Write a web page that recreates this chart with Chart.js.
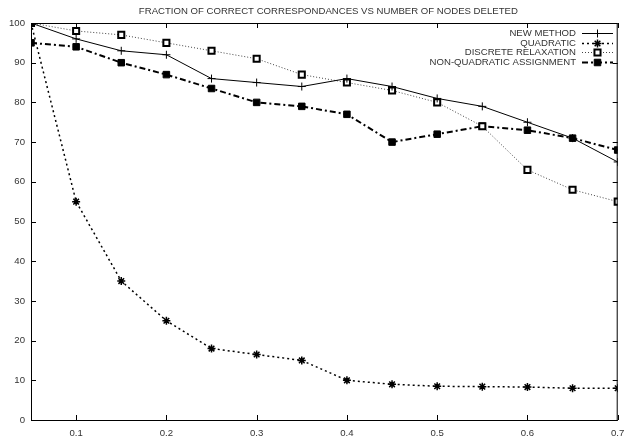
<!DOCTYPE html>
<html>
<head>
<meta charset="utf-8">
<script src="https://cdn.jsdelivr.net/npm/chart.js@4/dist/chart.umd.min.js"></script>
<style>
  html, body { margin: 0; padding: 0; background: #fff; overflow: hidden; }
  #wrap { width: 624px; height: 441px; }
</style>
</head>
<body>
<div id="wrap"><canvas id="chart"></canvas></div>
<script>
// Fraction of correct correspondances vs number of nodes deleted
const chartTitle = 'FRACTION OF CORRECT CORRESPONDANCES VS NUMBER OF NODES DELETED';
const nodesDeleted = [0.05, 0.1, 0.15, 0.2, 0.25, 0.3, 0.35, 0.4, 0.45, 0.5, 0.55, 0.6, 0.65, 0.7];
const newMethod    = [100, 96, 93, 92, 86, 85, 84, 86, 84, 81, 79, 75, 71, 65];
const quadratic    = [100, 55, 35, 25, 18, 16.5, 15, 10, 9, 8.5, 8.4, 8.3, 8, 8];
const discreteRelax = [100, 98, 97, 95, 93, 91, 87, 85, 83, 80, 74, 63, 58, 55];
const nonQuadratic = [95, 94, 90, 87, 83.5, 80, 79, 77, 70, 72, 74, 73, 71, 68];
const xTicks = [0.1, 0.2, 0.3, 0.4, 0.5, 0.6, 0.7];
const yTicks = [0, 10, 20, 30, 40, 50, 60, 70, 80, 90, 100];

const FONT = 'Liberation Sans, Arial, sans-serif';
const TEXT = '#333';
const FSIZE = 9.6;

const pts = vals => vals.map((v, i) => ({ x: nodesDeleted[i], y: v }));

// gnuplot style frame with inward ticks on all four sides, x labels and title
// (x labels drawn here so the last one can run off the canvas edge like the original)
const framePlugin = {
    id: 'frame',
    afterDatasetsDraw(chart) {
        const { ctx, chartArea: a, scales } = chart;
        ctx.save();
        ctx.strokeStyle = '#000';
        ctx.lineWidth = 1;
        ctx.strokeRect(a.left + 0.5, a.top + 0.5, a.right - a.left - 1, a.bottom - a.top);
        ctx.beginPath();
        const t = 5;
        yTicks.forEach(v => {
            const y = Math.round(scales.y.getPixelForValue(v)) + 0.5;
            ctx.moveTo(a.left, y); ctx.lineTo(a.left + t, y);
            ctx.moveTo(a.right, y); ctx.lineTo(a.right - t, y);
        });
        xTicks.forEach(v => {
            const x = Math.round(scales.x.getPixelForValue(v)) + 0.5;
            ctx.moveTo(x, a.bottom); ctx.lineTo(x, a.bottom - t);
            ctx.moveTo(x, a.top); ctx.lineTo(x, a.top + t);
        });
        ctx.stroke();

        ctx.fillStyle = TEXT;
        ctx.font = FSIZE + 'px ' + FONT;
        ctx.textAlign = 'center';
        ctx.textBaseline = 'middle';
        xTicks.forEach(v => {
            ctx.fillText(v.toFixed(1), scales.x.getPixelForValue(v), a.bottom + 13);
        });
        ctx.fillText(chartTitle, (a.left + a.right) / 2 + 4, 11);
        ctx.restore();
    }
};

// legend: right-aligned labels with line sample to the right
const legendPlugin = {
    id: 'gpLegend',
    afterDatasetsDraw(chart) {
        const { ctx } = chart;
        const textRight = 576, x0 = 582, x1 = 613, top = 33, step = 9.7;
        ctx.save();
        ctx.font = FSIZE + 'px ' + FONT;
        ctx.textAlign = 'right';
        ctx.textBaseline = 'middle';
        chart.data.datasets.forEach((ds, i) => {
            const y = Math.round(top + i * step);
            ctx.fillStyle = TEXT;
            ctx.fillText(ds.label, textRight, y);
            ctx.save();
            ctx.strokeStyle = ds.borderColor;
            ctx.lineWidth = ds.borderWidth;
            ctx.setLineDash(ds.borderDash || []);
            ctx.beginPath();
            ctx.moveTo(x0, y + 0.5); ctx.lineTo(x1, y + 0.5);
            ctx.stroke();
            ctx.restore();
            ctx.save();
            ctx.fillStyle = ds.pointBackgroundColor;
            ctx.strokeStyle = ds.pointBorderColor;
            ctx.lineWidth = ds.pointBorderWidth;
            Chart.helpers.drawPoint(ctx, { pointStyle: ds.pointStyle, radius: ds.pointRadius, rotation: 0, borderWidth: ds.pointBorderWidth }, (x0 + x1) / 2, y + 0.5);
            ctx.restore();
        });
        ctx.restore();
    }
};

new Chart(document.getElementById('chart'), {
    type: 'scatter',
    data: {
        datasets: [
            {
                label: 'NEW METHOD',
                data: pts(newMethod),
                showLine: true,
                borderColor: '#000',
                borderWidth: 1,
                pointStyle: 'cross',
                pointRadius: 4,
                pointBorderColor: '#000',
                pointBackgroundColor: '#000',
                pointBorderWidth: 1
            },
            {
                label: 'QUADRATIC',
                data: pts(quadratic),
                showLine: true,
                borderColor: '#000',
                borderWidth: 1.5,
                borderDash: [2, 3],
                pointStyle: 'star',
                pointRadius: 4,
                pointBorderColor: '#000',
                pointBackgroundColor: '#000',
                pointBorderWidth: 1.5
            },
            {
                label: 'DISCRETE RELAXATION',
                data: pts(discreteRelax),
                showLine: true,
                borderColor: '#444',
                borderWidth: 1,
                borderDash: [1, 2],
                pointStyle: 'rect',
                pointRadius: 4.3,
                pointBorderColor: '#000',
                pointBackgroundColor: '#fff',
                pointBorderWidth: 2
            },
            {
                label: 'NON-QUADRATIC ASSIGNMENT',
                data: pts(nonQuadratic),
                showLine: true,
                borderColor: '#000',
                borderWidth: 2,
                borderDash: [6, 3, 2, 3],
                pointStyle: 'rect',
                pointRadius: 4.6,
                pointBorderColor: '#000',
                pointBackgroundColor: '#000',
                pointBorderWidth: 1
            }
        ]
    },
    options: {
        responsive: true,
        maintainAspectRatio: false,
        animation: false,
        layout: { padding: { left: 0, right: 2, top: 23, bottom: 0 } },
        plugins: {
            legend: { display: false },
            tooltip: { enabled: false },
            title: { display: false }
        },
        scales: {
            x: {
                type: 'linear',
                min: 0.05,
                max: 0.7,
                afterBuildTicks: s => { s.ticks = xTicks.map(v => ({ value: v })); },
                afterFit: s => { s.height = 21; },
                grid: { display: false, drawTicks: false },
                border: { display: false },
                ticks: { display: false }
            },
            y: {
                min: 0,
                max: 100,
                afterBuildTicks: s => { s.ticks = yTicks.map(v => ({ value: v })); },
                afterFit: s => { s.width = 31; },
                grid: { display: false, drawTicks: false },
                border: { display: false },
                ticks: {
                    color: TEXT,
                    font: { family: FONT, size: FSIZE },
                    padding: 6
                }
            }
        }
    },
    plugins: [framePlugin, legendPlugin]
});
</script>
</body>
</html>
